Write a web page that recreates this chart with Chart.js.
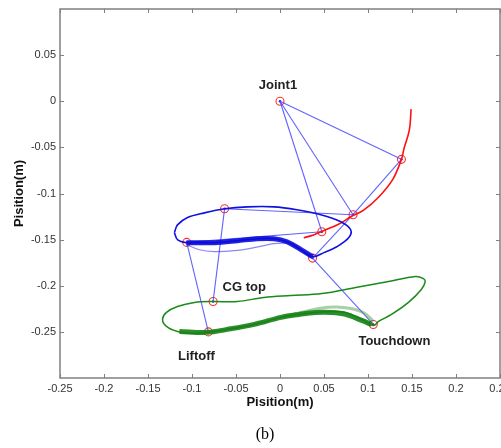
<!DOCTYPE html>
<html>
<head>
<meta charset="utf-8">
<script src="https://cdn.jsdelivr.net/npm/chart.js@4.4.1/dist/chart.umd.min.js"></script>
<style>
  body { margin: 0; background: #fff; }
  canvas { display: block; }
</style>
</head>
<body>
<canvas id="canvas" width="501" height="448"></canvas>
<script>
// axis ticks
const xTicks = [-0.25, -0.2, -0.15, -0.1, -0.05, 0, 0.05, 0.1, 0.15, 0.2, 0.25];
const yTicks = [0.05, 0, -0.05, -0.1, -0.15, -0.2, -0.25];

// joints of the linkage (red circles)
const jointX = [0, 0.138, 0.083, 0.0475, 0.037, -0.063, -0.106, -0.076, -0.0814, 0.106];
const jointY = [0, -0.063, -0.123, -0.1415, -0.170, -0.1166, -0.153, -0.217, -0.250, -0.242];
// links between joints (blue bars)
const links = [[0,1],[0,2],[0,3],[1,2],[2,4],[2,5],[3,6],[5,7],[6,8],[4,9]];

// red arc
const redArcX = [0.149, 0.147, 0.141, 0.138, 0.128, 0.112, 0.095, 0.081, 0.067, 0.050, 0.038, 0.027];
const redArcY = [-0.0086, -0.031, -0.051, -0.063, -0.085, -0.104, -0.118, -0.125, -0.133, -0.140, -0.145, -0.148];

// blue trajectory (upper loop)
const blueLoopX = [-0.120, -0.1165, -0.105, -0.086, -0.063, -0.0373, -0.0068, 0.0192, 0.0464, 0.069, 0.0803, 0.078, 0.0645, 0.0498, 0.0373, 0.0238, 0.0079, -0.0068, -0.026, -0.0486, -0.0747, -0.0939, -0.1063, -0.1165, -0.120];
const blueLoopY = [-0.1425, -0.134, -0.126, -0.121, -0.1166, -0.1145, -0.1145, -0.1177, -0.1231, -0.1307, -0.1393, -0.148, -0.1577, -0.1641, -0.1685, -0.1609, -0.1523, -0.149, -0.149, -0.1512, -0.1533, -0.1533, -0.1533, -0.150, -0.1425];
const blueBandX = [0.0373, 0.0238, 0.0079, -0.0068, -0.026, -0.0486, -0.0747, -0.0939, -0.1063];
const blueBandY = [-0.1685, -0.1609, -0.1523, -0.149, -0.149, -0.1512, -0.1533, -0.1533, -0.1533];
const blueLowerX = [-0.1063, -0.0916, -0.0747, -0.052, -0.0294, -0.0068, 0.008];
const blueLowerY = [-0.1555, -0.161, -0.163, -0.162, -0.1587, -0.1544, -0.1535];

// green trajectory (lower loop)
const greenLoopX = [-0.0826, -0.060, -0.0294, 0.0011, 0.0215, 0.0407, 0.0588, 0.0747, 0.0928, 0.1063, 0.112, 0.1267, 0.146, 0.1606, 0.165, 0.163, 0.1538, 0.1233, 0.086, 0.0475, 0.0124, -0.0181, -0.0486, -0.0758, -0.0973, -0.1165, -0.129, -0.1335, -0.129, -0.1165, -0.1007, -0.0826];
const greenLoopY = [-0.2505, -0.2473, -0.2419, -0.2343, -0.2311, -0.2289, -0.2279, -0.2289, -0.2365, -0.243, -0.2387, -0.2311, -0.2181, -0.2041, -0.1955, -0.1922, -0.190, -0.1955, -0.2019, -0.2084, -0.2106, -0.2127, -0.2171, -0.2171, -0.2181, -0.2225, -0.2289, -0.2365, -0.244, -0.2495, -0.2516, -0.2505];
const greenBandX = [-0.1143, -0.0826, -0.060, -0.0294, 0.0011, 0.0215, 0.0407, 0.0588, 0.0747, 0.0928, 0.104];
const greenBandY = [-0.2495, -0.2505, -0.2473, -0.2419, -0.2343, -0.2311, -0.2289, -0.2289, -0.231, -0.2376, -0.242];
const greenUpperX = [0.0102, 0.0441, 0.0724, 0.095, 0.1063];
const greenUpperY = [-0.2322, -0.2246, -0.2235, -0.229, -0.2387];

// annotations
const labelText = ['Joint1', 'CG top', 'Liftoff', 'Touchdown'];
const labelX = [-0.0023, -0.0407, -0.095, 0.130];
const labelY = [0.0173, -0.202, -0.2765, -0.260];

function pts(xs, ys) {
  return xs.map(function(x, i) { return {x: x, y: ys[i]}; });
}

function curve(xs, ys, color, width) {
  return {
    data: pts(xs, ys), showLine: true, borderColor: color, borderWidth: width,
    pointRadius: 0, fill: false, tension: 0.35
  };
}

var datasets = [];
datasets.push(curve(greenBandX, greenBandY, 'rgba(20,130,20,0.9)', 5));
datasets.push(curve(greenUpperX, greenUpperY, 'rgba(60,150,60,0.45)', 3));
datasets.push(curve(greenLoopX, greenLoopY, '#1a8a1a', 1.5));
datasets.push(curve(blueBandX, blueBandY, 'rgba(10,10,220,0.9)', 5));
datasets.push(curve(blueLowerX, blueLowerY, 'rgba(40,40,230,0.55)', 1.2));
datasets.push(curve(blueLoopX, blueLoopY, '#1010e0', 1.6));
datasets.push(curve(redArcX, redArcY, '#ff1010', 1.6));

links.forEach(function(l) {
  datasets.push({
    data: [{x: jointX[l[0]], y: jointY[l[0]]}, {x: jointX[l[1]], y: jointY[l[1]]}],
    showLine: true, borderColor: 'rgba(70,70,255,0.85)', borderWidth: 1.1, pointRadius: 0
  });
});

// red circle markers
datasets.push({
  data: pts(jointX, jointY), showLine: false, pointStyle: 'circle', pointRadius: 4,
  borderColor: '#ff3030', borderWidth: 1.1, backgroundColor: 'rgba(0,0,0,0)'
});
datasets.push({
  data: pts(jointX, jointY), showLine: false, pointRadius: 1.2,
  borderColor: '#2020c0', backgroundColor: '#2020c0', borderWidth: 0
});

function fmt(v) {
  return String(Math.round(v * 100) / 100);
}

const matlabAxes = {
  id: 'matlabAxes',
  afterDraw: function(chart) {
    var ctx = chart.ctx, a = chart.chartArea;
    var xs = chart.scales.x, ys = chart.scales.y;
    ctx.save();
    ctx.strokeStyle = '#808080';
    ctx.lineWidth = 1.5;
    ctx.strokeRect(a.left, a.top, a.right - a.left, a.bottom - a.top);
    ctx.lineWidth = 1;
    ctx.beginPath();
    xTicks.forEach(function(v) {
      var px = Math.round(xs.getPixelForValue(v)) + 0.5;
      ctx.moveTo(px, a.bottom); ctx.lineTo(px, a.bottom - 4);
      ctx.moveTo(px, a.top); ctx.lineTo(px, a.top + 4);
    });
    yTicks.forEach(function(v) {
      var py = Math.round(ys.getPixelForValue(v)) + 0.5;
      ctx.moveTo(a.left, py); ctx.lineTo(a.left + 4, py);
      ctx.moveTo(a.right, py); ctx.lineTo(a.right - 4, py);
    });
    ctx.stroke();

    ctx.fillStyle = '#333';
    ctx.font = '11px "Liberation Sans", Arial, sans-serif';
    ctx.textAlign = 'center';
    ctx.textBaseline = 'middle';
    xTicks.forEach(function(v) {
      ctx.fillText(fmt(v), xs.getPixelForValue(v), a.bottom + 11);
    });
    ctx.textAlign = 'right';
    yTicks.forEach(function(v) {
      ctx.fillText(fmt(v), a.left - 4, ys.getPixelForValue(v));
    });

    ctx.fillStyle = '#111';
    ctx.font = 'bold 13px "Liberation Sans", Arial, sans-serif';
    ctx.textAlign = 'center';
    ctx.fillText('Pisition(m)', (a.left + a.right) / 2, a.bottom + 24);
    ctx.save();
    ctx.translate(19, (a.top + a.bottom) / 2);
    ctx.rotate(-Math.PI / 2);
    ctx.fillText('Pisition(m)', 0, 0);
    ctx.restore();

    ctx.fillStyle = '#222';
    labelText.forEach(function(t, i) {
      ctx.fillText(t, xs.getPixelForValue(labelX[i]), ys.getPixelForValue(labelY[i]));
    });

    ctx.fillStyle = '#000';
    ctx.font = '16px "Liberation Serif", "Times New Roman", serif';
    ctx.fillText('(b)', 265, 435);
    ctx.restore();
  }
};

var ctx = document.getElementById('canvas').getContext('2d');
var chart = new Chart(ctx, {
  type: 'scatter',
  data: { datasets: datasets },
  options: {
    responsive: false,
    animation: false,
    layout: { autoPadding: false, padding: { left: 60, top: 9, right: 1, bottom: 70 } },
    scales: {
      x: { type: 'linear', display: false, min: -0.25, max: 0.25 },
      y: { type: 'linear', display: false, min: -0.3, max: 0.1 }
    },
    plugins: { legend: { display: false }, tooltip: { enabled: false } }
  },
  plugins: [matlabAxes]
});
</script>
</body>
</html>
